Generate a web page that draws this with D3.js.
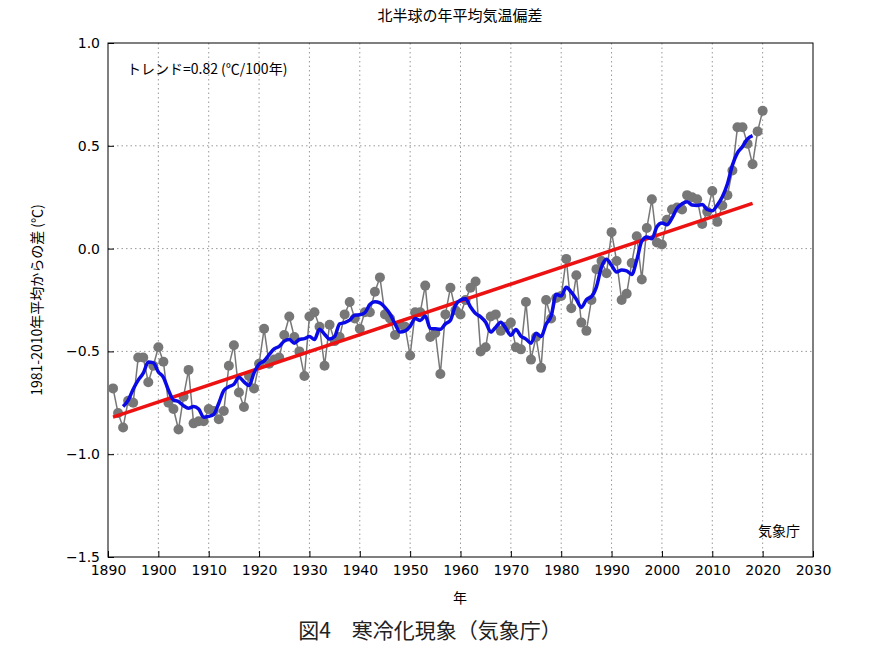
<!DOCTYPE html>
<html><head><meta charset="utf-8">
<script src="https://cdn.jsdelivr.net/npm/d3@7"></script>
<style>
body{margin:0;background:#fff;font-family:"Noto Sans CJK JP","DejaVu Sans",sans-serif;}
</style></head>
<body><svg id="chart" width="869" height="651"></svg>
<script>
// annual anomalies (°C), 1891-2020
const firstYear = 1891;
const anomalies = [
  -0.68,-0.80,-0.87,-0.74,-0.75,-0.53,-0.53,-0.65,-0.57,-0.48,
  -0.55,-0.75,-0.78,-0.88,-0.72,-0.59,-0.85,-0.84,-0.84,-0.78,
  -0.79,-0.83,-0.79,-0.57,-0.47,-0.70,-0.77,-0.62,-0.68,-0.56,
  -0.39,-0.56,-0.54,-0.53,-0.42,-0.33,-0.43,-0.50,-0.62,-0.33,
  -0.31,-0.38,-0.57,-0.37,-0.45,-0.43,-0.32,-0.26,-0.34,-0.39,
  -0.31,-0.31,-0.21,-0.14,-0.32,-0.34,-0.42,-0.37,-0.38,-0.52,
  -0.31,-0.31,-0.18,-0.43,-0.41,-0.61,-0.32,-0.19,-0.30,-0.32,
  -0.25,-0.19,-0.16,-0.50,-0.48,-0.33,-0.32,-0.40,-0.38,-0.36,
  -0.48,-0.49,-0.26,-0.54,-0.43,-0.58,-0.25,-0.34,-0.24,-0.23,
  -0.05,-0.29,-0.13,-0.36,-0.40,-0.25,-0.10,-0.06,-0.12,0.08,
  -0.06,-0.25,-0.22,-0.07,0.06,-0.15,0.10,0.24,0.03,0.02,
  0.14,0.19,0.20,0.19,0.26,0.25,0.24,0.12,0.18,0.28,
  0.13,0.21,0.26,0.38,0.59,0.59,0.51,0.41,0.57,0.67
];
const trendYears = [1891, 2018];
const trendValues = [-0.82, 0.22];
const xTicks = [1890,1900,1910,1920,1930,1940,1950,1960,1970,1980,1990,2000,2010,2020,2030];
const yTicks = [1.0,0.5,0.0,-0.5,-1.0,-1.5];

const data = anomalies.map((v, i) => ({year: firstYear + i, value: v}));
// 5-year running mean of the anomalies
const smooth = data.slice(2, -2).map((d, i) => ({
  year: d.year,
  value: d3.mean(anomalies.slice(i, i + 5))
}));

const svg = d3.select('#chart');
const plotL = 108, plotR = 813, plotT = 43, plotB = 557;
const x = d3.scaleLinear().domain([1890, 2030]).range([plotL, plotR]);
const y = d3.scaleLinear().domain([-1.5, 1.0]).range([plotB, plotT]);

// grid
const grid = svg.append('g').attr('stroke', '#999').attr('stroke-dasharray', '1.5,3').attr('stroke-width', 1);
xTicks.slice(1, -1).forEach(t => grid.append('line')
  .attr('x1', x(t)).attr('x2', x(t)).attr('y1', plotT).attr('y2', plotB));
yTicks.slice(1, -1).forEach(t => grid.append('line')
  .attr('x1', plotL).attr('x2', plotR).attr('y1', y(t)).attr('y2', y(t)));

// axes
svg.append('g').attr('transform', `translate(0,${plotB})`)
  .call(d3.axisBottom(x).tickValues(xTicks).tickFormat(d3.format('d')).tickSize(-6).tickPadding(8))
  .call(g => g.select('.domain').remove());
svg.append('g').attr('transform', `translate(${plotL},0)`)
  .call(d3.axisLeft(y).tickValues(yTicks).tickFormat(d3.format('.1f')).tickSize(-6).tickPadding(8))
  .call(g => g.select('.domain').remove());
svg.selectAll('.tick text').attr('font-size', 14).attr('fill', '#000')
  .attr('font-family', '"DejaVu Sans",sans-serif');
svg.append('rect').attr('x', plotL).attr('y', plotT).attr('width', plotR - plotL).attr('height', plotB - plotT)
  .attr('fill', 'none').attr('stroke', '#000').attr('stroke-width', 1);

// data line + points
const line = d3.line().x(d => x(d.year)).y(d => y(d.value));
svg.append('path').datum(data).attr('d', line).attr('fill', 'none')
  .attr('stroke', '#777').attr('stroke-width', 1.5);
svg.append('g').selectAll('circle').data(data).join('circle')
  .attr('cx', d => x(d.year)).attr('cy', d => y(d.value)).attr('r', 5).attr('fill', '#777');

// trend
svg.append('line').attr('x1', x(trendYears[0])).attr('y1', y(trendValues[0]))
  .attr('x2', x(trendYears[1])).attr('y2', y(trendValues[1]))
  .attr('stroke', '#ee1111').attr('stroke-width', 3.5);

// running mean
svg.append('path').datum(smooth).attr('d', line.curve(d3.curveMonotoneX)).attr('fill', 'none')
  .attr('stroke', '#0a0ae6').attr('stroke-width', 3.5);

// texts
svg.append('text').attr('x', 460).attr('y', 21).attr('text-anchor', 'middle')
  .attr('font-size', 15).text('北半球の年平均気温偏差');
svg.append('text').attr('x', 127).attr('y', 74).attr('font-size', 14).text('トレンド=0.82 (℃/100年)');
svg.append('text').attr('x', 800).attr('y', 536).attr('text-anchor', 'end').attr('font-size', 14).text('気象庁');
svg.append('text').attr('x', 460).attr('y', 603).attr('text-anchor', 'middle').attr('font-size', 14).text('年');
svg.append('text').attr('transform', 'translate(42,300) rotate(-90)').attr('text-anchor', 'middle')
  .attr('font-size', 14).text('1981-2010年平均からの差 (℃)');
svg.append('text').attr('x', 430).attr('y', 638).attr('text-anchor', 'middle')
  .attr('font-size', 21).attr('fill', '#222').text('図4　寒冷化現象（気象庁）');
</script></body></html>
